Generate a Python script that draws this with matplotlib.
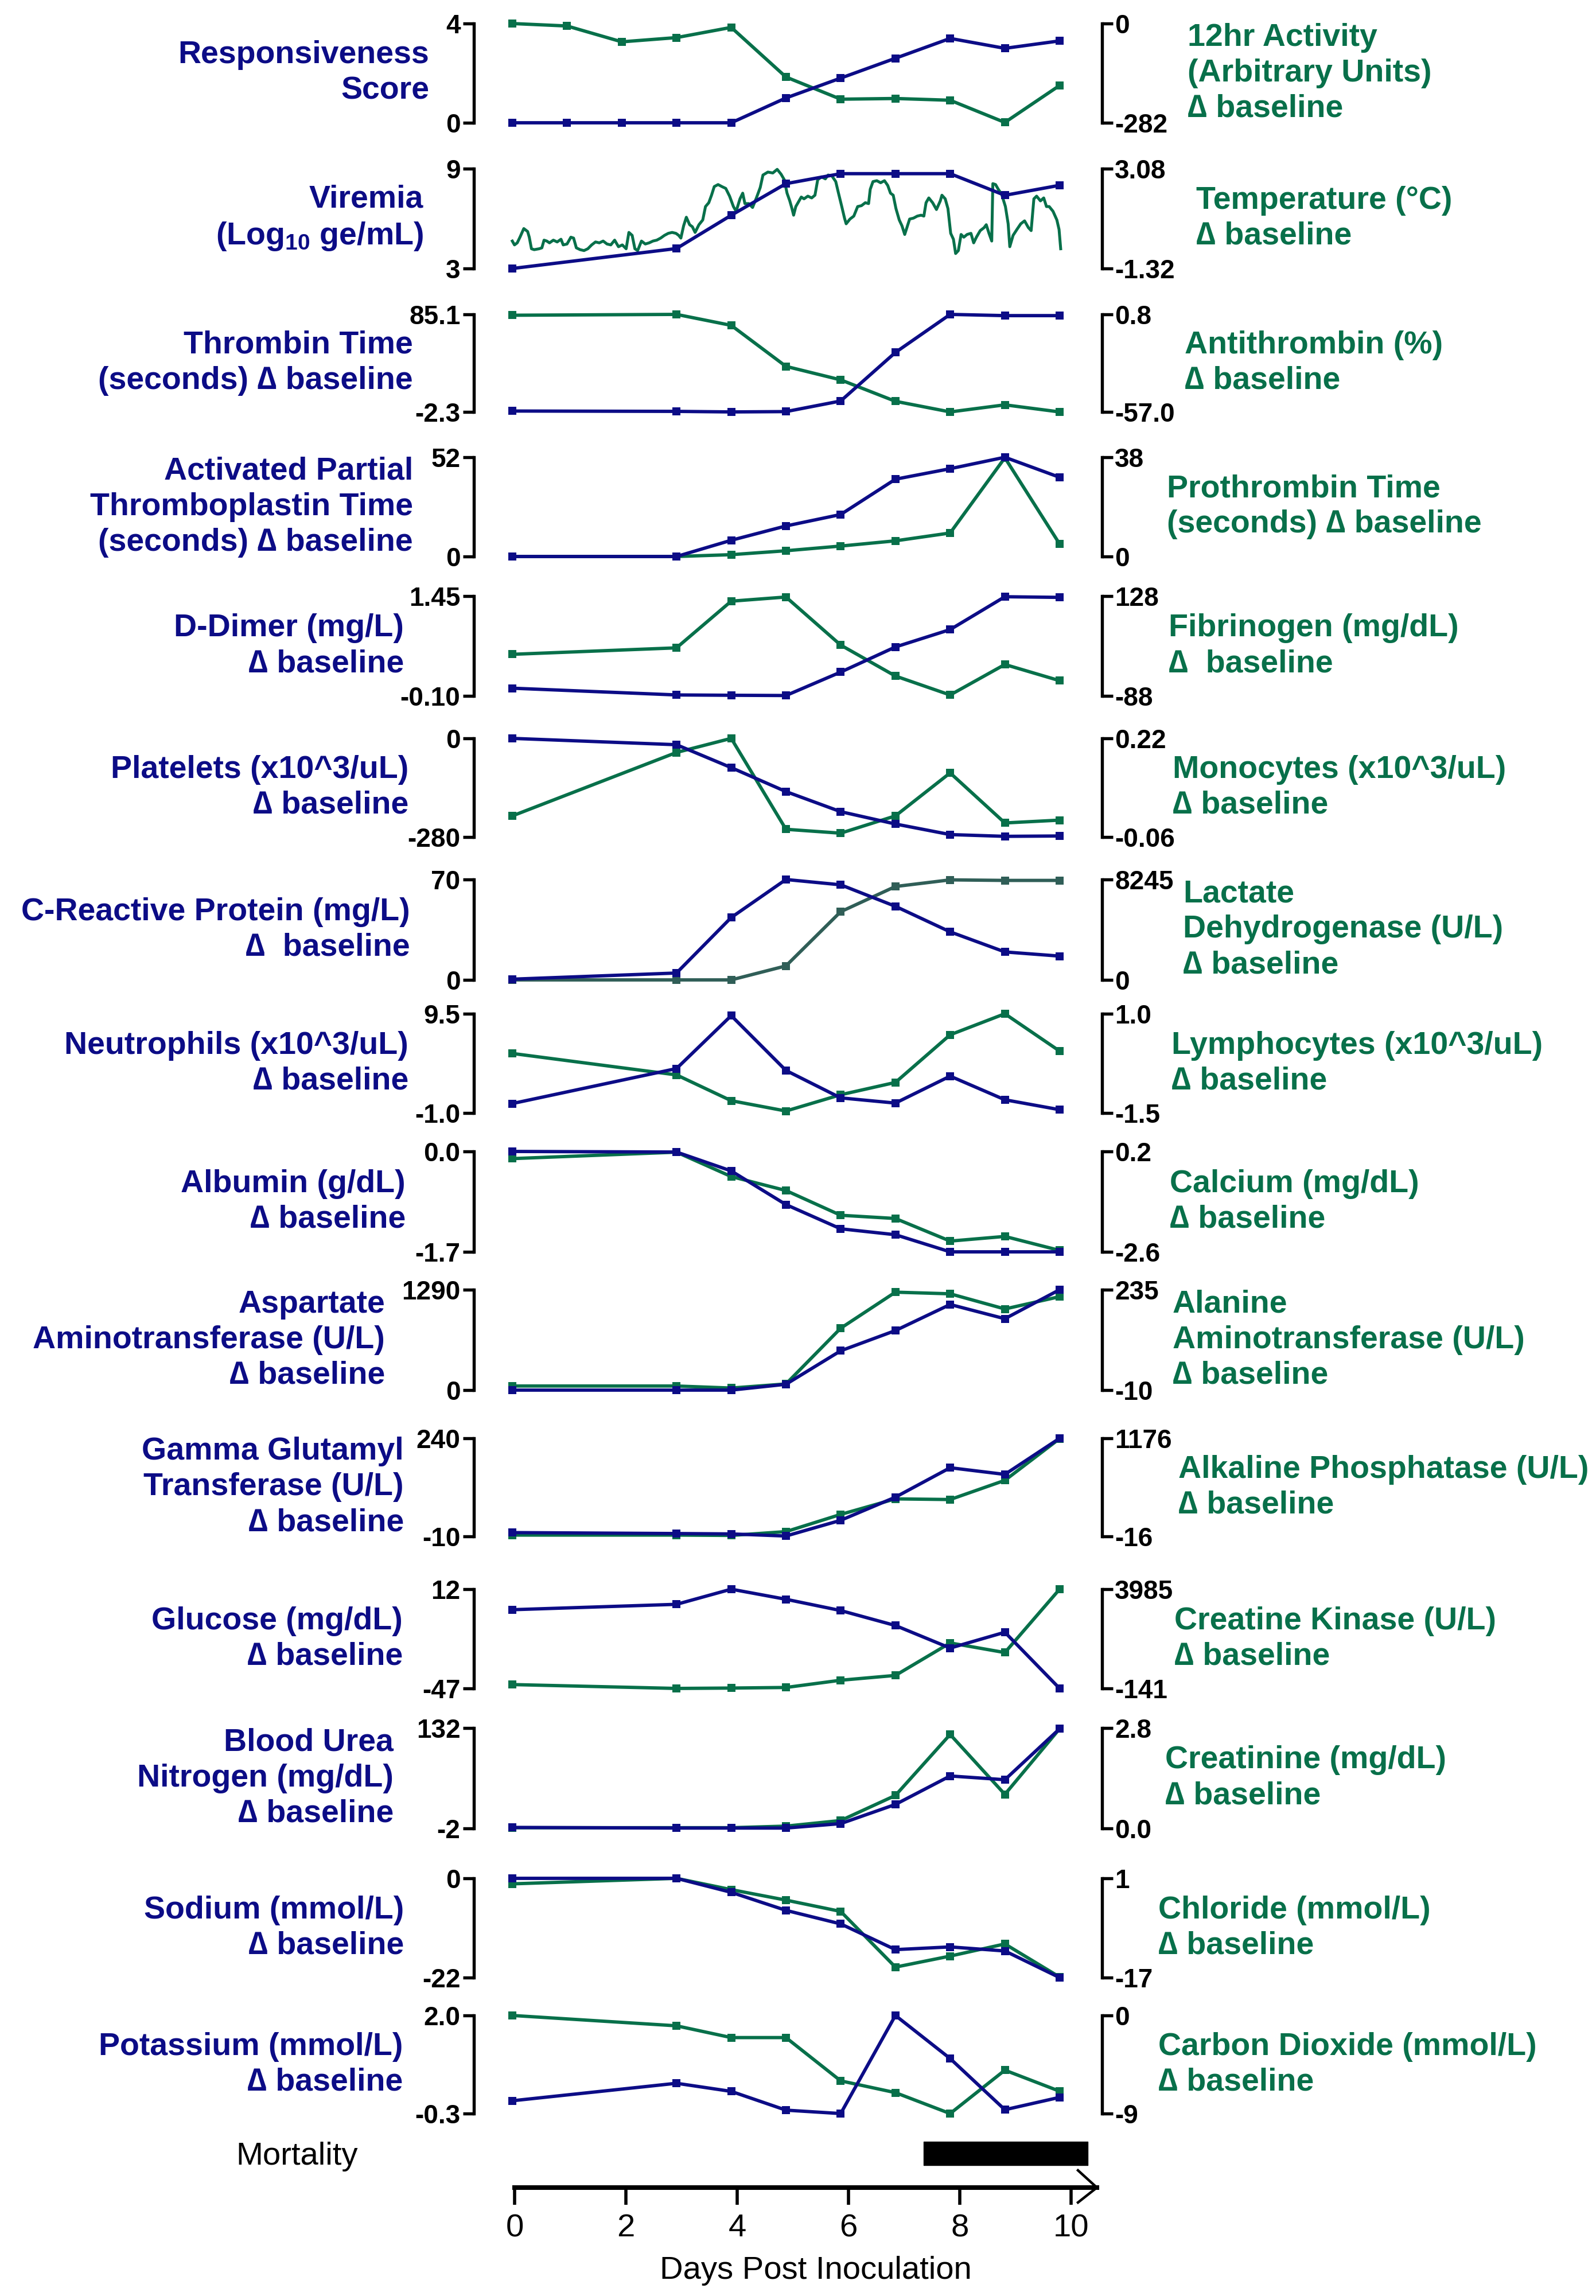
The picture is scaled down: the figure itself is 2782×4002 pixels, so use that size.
import matplotlib
matplotlib.use("Agg")
import matplotlib.pyplot as plt
from matplotlib import font_manager

plt.rcParams['font.family'] = ['Liberation Sans', 'DejaVu Sans']

NAVY = "#0c0c86"
GREEN = "#08704a"
SLATE = "#305e57"

# narrow face if the machine has one, otherwise a smaller regular face of the same width
installed = {f.name for f in font_manager.fontManager.ttflist}
if 'Liberation Sans Narrow' in installed:
    NARROW = ['Liberation Sans Narrow', 'DejaVu Sans']
    BOTTOM_FS = 47
else:
    NARROW = ['Liberation Sans', 'DejaVu Sans']
    BOTTOM_FS = 40.5
TICK_FS = 33

######################################### DATA
daily_days = [0, 1, 2, 3, 4, 5, 6, 7, 8, 9, 10]
lab_days = [0, 3, 4, 5, 6, 7, 8, 9, 10]

responsiveness = [0, 0, 0, 0, 0, 1.0, 1.8, 2.6, 3.4, 3.0, 3.3]
activity = [0, -7, -52, -40, -11, -152, -215, -213, -218, -281, -176]

viremia = [3.0, 4.2, 6.2, 8.1, 8.7, 8.7, 8.7, 7.4, 8.0]
temp_days = [0.00, 0.04, 0.09, 0.14, 0.21, 0.28, 0.31, 0.35, 0.40, 0.49,
             0.54, 0.58, 0.63, 0.68, 0.75, 0.82, 0.89, 0.93, 1.00, 1.07,
             1.12, 1.17, 1.24, 1.31, 1.38, 1.45, 1.52, 1.59, 1.66, 1.73,
             1.80, 1.87, 1.94, 2.01, 2.08, 2.13, 2.19, 2.24, 2.29, 2.36,
             2.43, 2.50, 2.57, 2.64, 2.71, 2.78, 2.85, 2.92, 2.99, 3.04,
             3.08, 3.13, 3.18, 3.24, 3.29, 3.34, 3.41, 3.48, 3.53, 3.59,
             3.64, 3.69, 3.76, 3.83, 3.90, 3.97, 4.04, 4.09, 4.16, 4.21,
             4.25, 4.32, 4.39, 4.46, 4.53, 4.58, 4.67, 4.76, 4.84, 4.91,
             4.97,
             5.02, 5.07, 5.11, 5.14, 5.18, 5.23, 5.28, 5.33, 5.40, 5.47,
             5.53, 5.58, 5.65, 5.72, 5.77, 5.84, 5.91, 5.96, 6.02, 6.07,
             6.10, 6.17, 6.24, 6.31, 6.38, 6.45, 6.51, 6.54, 6.59, 6.66,
             6.73, 6.80, 6.86, 6.91, 6.96, 7.01, 7.07, 7.12, 7.17, 7.22,
             7.26, 7.33, 7.40, 7.47, 7.52, 7.56, 7.61, 7.68, 7.75, 7.82,
             7.85, 7.91, 7.96, 8.01, 8.06, 8.10, 8.15, 8.20, 8.25, 8.31,
             8.38, 8.43, 8.48, 8.55, 8.62, 8.66, 8.71, 8.76, 8.78, 8.83,
             8.88, 8.94, 9.01, 9.06, 9.09, 9.15, 9.22, 9.29, 9.36, 9.43,
             9.48, 9.53, 9.58, 9.65, 9.71, 9.76, 9.81, 9.88, 9.95, 9.99,
             10.02]
temperature = [-0.11, -0.28, -0.19, 0.06, 0.44, 0.31, 0.06, -0.45, -0.49, -0.45,
               -0.41, -0.07, -0.11, -0.19, -0.07, -0.15, -0.03, -0.28, -0.24, 0.06,
               0.02, -0.41, -0.49, -0.53, -0.45, -0.28, -0.15, -0.19, -0.11, -0.24,
               -0.28, -0.07, -0.36, -0.28, -0.45, 0.27, 0.14, -0.45, -0.53, -0.11,
               -0.24, -0.19, -0.11, -0.07, 0.02, 0.14, 0.23, 0.27, 0.23, 0.14,
               0.02, 0.56, 0.94, 0.61, 0.52, 0.27, 0.61, 0.82, 1.41, 1.58,
               1.91, 2.29, 2.38, 2.29, 2.21, 1.87, 1.41, 1.20, 1.75, 2.00,
               1.54, 1.54, 1.37, 1.79, 2.25, 2.80, 2.93, 2.89, 3.05, 2.84,
               2.59,
               2.00, 1.66, 1.32, 1.03, 1.41, 1.62, 1.83, 1.75, 1.87, 1.79,
               1.91, 2.59, 2.72, 2.63, 2.80, 2.76, 2.51, 2.00, 1.41, 0.90,
               0.65, 0.86, 0.99, 1.41, 1.45, 1.58, 1.54, 2.17, 2.51, 2.55,
               2.46, 2.55, 2.34, 2.00, 1.91, 1.32, 0.82, 0.56, 0.18, 0.56,
               0.86, 0.90, 0.99, 1.03, 0.99, 1.58, 1.79, 1.58, 1.28, 1.66,
               1.91, 1.75, 1.32, 0.23, -0.03, -0.66, -0.53, 0.18, 0.06, 0.18,
               0.23, -0.19, 0.06, 0.35, 0.48, 0.61, 0.23, -0.11, 2.42, 2.38,
               2.17, 1.96, 1.41, 0.65, -0.36, 0.14, 0.40, 0.65, 0.78, 0.48,
               0.35, 1.75, 1.87, 1.66, 1.79, 1.41, 1.41, 1.20, 0.82, 0.40,
               -0.45]

thrombin = [-1.5, -1.8, -2.3, -2.0, 7.5, 51, 85.1, 84, 84]
antithrombin = [0.3, 0.8, -5.7, -30, -38, -50.7, -57.0, -52.8, -57.0]
aptt = [0, 0, 8.5, 16, 22, 40.5, 46, 52, 41.5]
prothrombin = [0, 0, 0.7, 2.2, 4, 6, 9, 37.8, 4.8]
ddimer = [0.02, -0.085, -0.09, -0.094, 0.27, 0.66, 0.93, 1.44, 1.43]
fibrinogen = [2, 16, 117, 126, 22, -45, -86, -20, -55]
platelets = [0, -18, -83, -151, -208, -243, -273, -278, -277]
monocytes = [0.0, 0.18, 0.22, -0.038, -0.049, 0.0, 0.122, -0.02, -0.012]
crp = [0.5, 4.8, 43.5, 70, 66.3, 51.3, 33.5, 19.5, 16.6]
ldh = [0, 0, 0, 1150, 5600, 7670, 8215, 8170, 8170]
neutrophils = [0.0, 3.7, 9.3, 3.5, 0.6, 0.05, 2.9, 0.4, -0.65]
lymphocytes = [0.0, -0.54, -1.19, -1.45, -1.04, -0.73, 0.47, 1.0, 0.06]
albumin = [0, -0.01, -0.33, -0.9, -1.31, -1.41, -1.7, -1.7, -1.7]
calcium = [0.0, 0.18, -0.5, -0.89, -1.58, -1.67, -2.3, -2.17, -2.56]
ast = [0, 0, 0, 75, 505, 765, 1100, 917, 1290]
alt = [0, 0, -5, 5, 141, 229, 225, 188, 218]
ggt = [-0.3, -2.7, -3.7, -9, 31, 90, 165, 148, 240]
alp = [0, 0, -4, 42, 251, 440, 432, 665, 1172]
glucose = [-0.2, 3.0, 12, 6, -0.7, -9.6, -23, -13.6, -47]
ck = [20, -141, -125, -101, 200, 400, 1750, 1350, 3985]
bun = [-0.7, -1.5, -1.5, -1.5, 4.4, 30, 68, 63, 131]
creatinine = [0.02, 0.02, 0.02, 0.064, 0.22, 0.92, 2.62, 0.95, 2.78]
sodium = [0, 0, -3.1, -7.1, -10.1, -15.8, -15.2, -16.1, -22]
chloride = [0.0, 1.0, -1.05, -2.95, -5.0, -15.1, -13.1, -10.9, -16.9]
potassium = [0.0, 0.41, 0.22, -0.22, -0.3, 2.0, 0.99, -0.21, 0.08]
co2 = [0, -0.95, -2.03, -2.03, -6.0, -7.08, -9.0, -5.02, -6.95]

mortality_start = 7.35
mortality_end = 10.3
axis_days = [0, 2, 4, 6, 8, 10]

D = "\u2206"
panels = [
    ("Responsiveness\nScore", daily_days, responsiveness, ["0", "4"],
     "12hr Activity\n(Arbitrary Units)\n" + D + " baseline", daily_days, activity, ["-282", "0"], GREEN),
    ("Viremia\n(Log$_\\mathregular{10}$ ge/mL)", lab_days, viremia, ["3", "9"],
     "Temperature (\u00b0C)\n" + D + " baseline", temp_days, temperature, ["-1.32", "3.08"], GREEN),
    ("Thrombin Time\n(seconds) " + D + " baseline", lab_days, thrombin, ["-2.3", "85.1"],
     "Antithrombin (%)\n" + D + " baseline", lab_days, antithrombin, ["-57.0", "0.8"], GREEN),
    ("Activated Partial\nThromboplastin Time\n(seconds) " + D + " baseline", lab_days, aptt, ["0", "52"],
     "Prothrombin Time\n(seconds) " + D + " baseline", lab_days, prothrombin, ["0", "38"], GREEN),
    ("D-Dimer (mg/L)\n" + D + " baseline", lab_days, ddimer, ["-0.10", "1.45"],
     "Fibrinogen (mg/dL)\n" + D + "  baseline", lab_days, fibrinogen, ["-88", "128"], GREEN),
    ("Platelets (x10^3/uL)\n" + D + " baseline", lab_days, platelets, ["-280", "0"],
     "Monocytes (x10^3/uL)\n" + D + " baseline", lab_days, monocytes, ["-0.06", "0.22"], GREEN),
    ("C-Reactive Protein (mg/L)\n" + D + "  baseline", lab_days, crp, ["0", "70"],
     "Lactate\nDehydrogenase (U/L)\n" + D + " baseline", lab_days, ldh, ["0", "8245"], SLATE),
    ("Neutrophils (x10^3/uL)\n" + D + " baseline", lab_days, neutrophils, ["-1.0", "9.5"],
     "Lymphocytes (x10^3/uL)\n" + D + " baseline", lab_days, lymphocytes, ["-1.5", "1.0"], GREEN),
    ("Albumin (g/dL)\n" + D + " baseline", lab_days, albumin, ["-1.7", "0.0"],
     "Calcium (mg/dL)\n" + D + " baseline", lab_days, calcium, ["-2.6", "0.2"], GREEN),
    ("Aspartate\nAminotransferase (U/L)\n" + D + " baseline", lab_days, ast, ["0", "1290"],
     "Alanine\nAminotransferase (U/L)\n" + D + " baseline", lab_days, alt, ["-10", "235"], GREEN),
    ("Gamma Glutamyl\nTransferase (U/L)\n" + D + " baseline", lab_days, ggt, ["-10", "240"],
     "Alkaline Phosphatase (U/L)\n" + D + " baseline", lab_days, alp, ["-16", "1176"], GREEN),
    ("Glucose (mg/dL)\n" + D + " baseline", lab_days, glucose, ["-47", "12"],
     "Creatine Kinase (U/L)\n" + D + " baseline", lab_days, ck, ["-141", "3985"], GREEN),
    ("Blood Urea\nNitrogen (mg/dL)\n" + D + " baseline", lab_days, bun, ["-2", "132"],
     "Creatinine (mg/dL)\n" + D + " baseline", lab_days, creatinine, ["0.0", "2.8"], GREEN),
    ("Sodium (mmol/L)\n" + D + " baseline", lab_days, sodium, ["-22", "0"],
     "Chloride (mmol/L)\n" + D + " baseline", lab_days, chloride, ["-17", "1"], GREEN),
    ("Potassium (mmol/L)\n" + D + " baseline", lab_days, potassium, ["-0.3", "2.0"],
     "Carbon Dioxide (mmol/L)\n" + D + " baseline", lab_days, co2, ["-9", "0"], GREEN),
]

######################################### LAYOUT (pixels)
W, H = 2782, 4002
panel_px = [(41, 214), (294, 468), (548, 718), (797, 970), (1039, 1213),
            (1287, 1459), (1533, 1708), (1767, 1940), (2007, 2182), (2248, 2423),
            (2507, 2678), (2770, 2943), (3012, 3187), (3274, 3447), (3513, 3684)]
left_label_x = [748, 738, 720, 720, 704, 712, 715, 712, 707, 671,
                704, 702, 686, 704, 702]
right_label_x = [2070, 2085, 2065, 2034, 2037, 2044, 2062, 2042, 2039, 2044,
                 2054, 2047, 2031, 2019, 2019]
AX_L, AX_R = 826, 1921
DAY0, DAY10 = 893, 1847
ppd = (DAY10 - DAY0) / 10.0
xlim = ((AX_L - DAY0) / ppd, 10 + (AX_R - DAY10) / ppd)

LABEL_FS = 40
LINE_SP = 1.25
SPINE_W = 3.9
LW = 4.2
MS = 10

fig = plt.figure(figsize=(W / 100, H / 100), dpi=100)


def style_axis(ax, side, ticks):
    lo, hi = float(ticks[0]), float(ticks[1])
    ax.set_xlim(*xlim)
    ax.set_ylim(lo, hi)
    for s in ['top', 'bottom', 'left', 'right']:
        ax.spines[s].set_visible(s == side)
    ax.spines[side].set_linewidth(SPINE_W)
    ax.set_xticks([])
    ax.set_yticks([lo, hi])
    ax.set_yticklabels(ticks, fontsize=TICK_FS, fontweight='bold')
    ax.tick_params(axis='y', direction='out', length=14, width=SPINE_W,
                   pad=3 if side == 'left' else 2)
    if side == 'right':
        ax.yaxis.tick_right()
    else:
        ax.yaxis.tick_left()


for i, (ll, lx, ly, lt, rl, rx, ry, rt, rc) in enumerate(panels):
    top, bot = panel_px[i]
    rect = [AX_L / W, 1 - bot / H, (AX_R - AX_L) / W, (bot - top) / H]
    ax = fig.add_axes(rect)
    ax2 = ax.twinx()
    style_axis(ax, 'left', lt)
    style_axis(ax2, 'right', rt)
    ax.set_zorder(2)
    ax2.set_zorder(1)
    ax.patch.set_visible(False)

    ax.plot(lx, ly, color=NAVY, lw=LW, marker='s', ms=MS, mew=0, clip_on=False)
    if len(rx) > 20:
        ax2.plot(rx, ry, color=rc, lw=3.6, clip_on=False)
    else:
        ax2.plot(rx, ry, color=rc, lw=LW, marker='s', ms=MS, mew=0, clip_on=False)

    ymid = 1 - (top + bot) / 2 / H
    fig.text(left_label_x[i] / W, ymid, ll, ha='right', va='center', multialignment='right',
             color=NAVY, fontsize=LABEL_FS, fontweight='bold', linespacing=LINE_SP)
    fig.text(right_label_x[i] / W, ymid, rl, ha='left', va='center',
             color=GREEN, fontsize=LABEL_FS, fontweight='bold', linespacing=LINE_SP)

######################################### BOTTOM AXIS
B_L, B_R, B_Y, B_TOP = 897, 1912, 3813, 3700
bx = fig.add_axes([B_L / W, 1 - B_Y / H, (B_R - B_L) / W, (B_Y - B_TOP) / H])
xmax = (B_R - B_L) / 97.0
bx.set_xlim(0, xmax)
bx.set_ylim(0, B_Y - B_TOP)
for s in ['top', 'left', 'right']:
    bx.spines[s].set_visible(False)
bx.spines['bottom'].set_linewidth(5.8)
bx.set_yticks([])
bx.set_xticks(axis_days)
bx.set_xticklabels([str(d) for d in axis_days], fontsize=BOTTOM_FS, family=NARROW)
bx.tick_params(axis='x', direction='out', length=21.6, width=4, pad=11)
bx.patch.set_visible(False)
# open arrow head on the time axis
bx.plot([xmax - 0.34, xmax, xmax - 0.34], [30, 0, -26], color='black', lw=3.2,
        clip_on=False, solid_joinstyle='miter')
bx.broken_barh([(mortality_start, mortality_end - mortality_start)], (39, 41),
               color='black')

fig.text(624 / W, 1 - 3773 / H, 'Mortality', ha='right', va='baseline',
         fontsize=BOTTOM_FS, family=NARROW)
fig.text(1422 / W, 1 - 3972 / H, 'Days Post Inoculation', ha='center', va='baseline',
         fontsize=BOTTOM_FS, family=NARROW)

plt.savefig('out.png', dpi=100)
